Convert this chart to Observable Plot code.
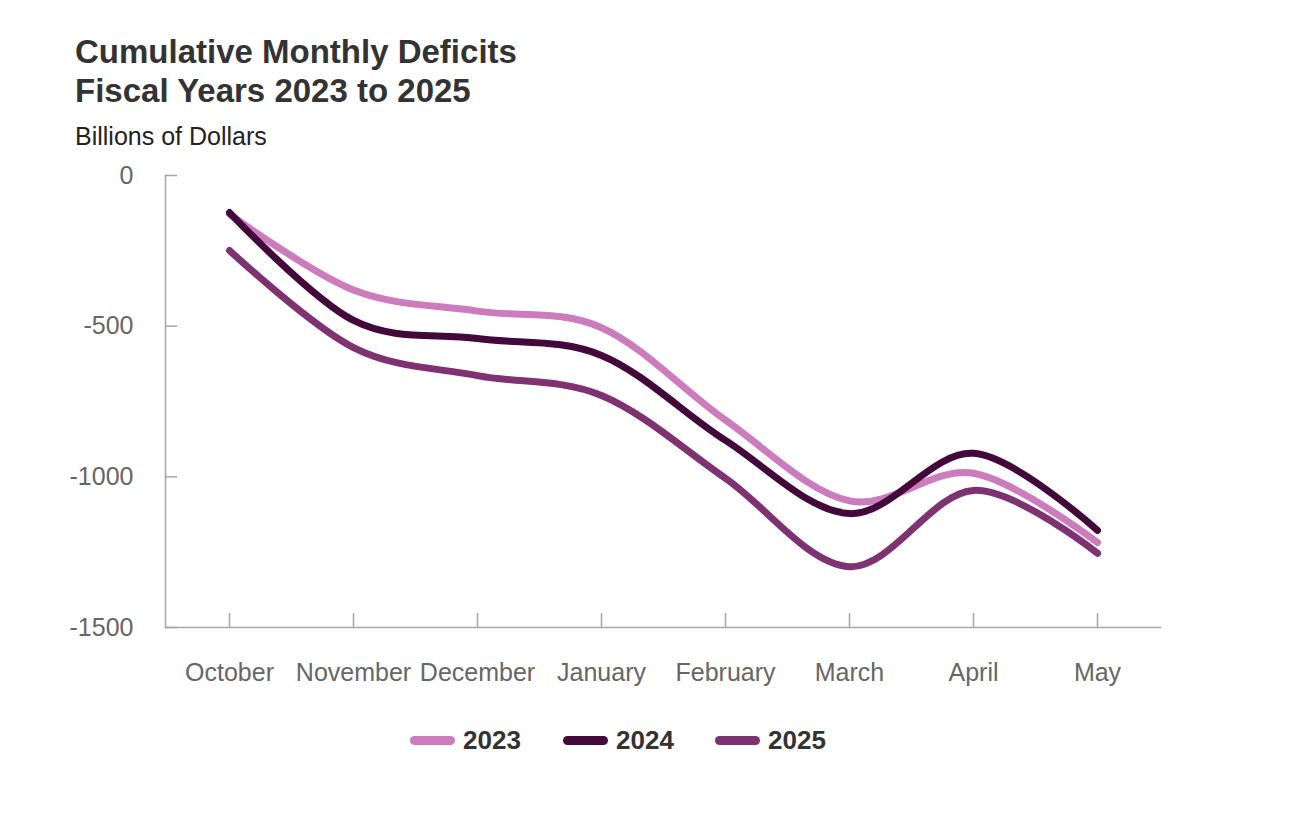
<!DOCTYPE html>
<html>
<head>
<meta charset="utf-8">
<script src="https://cdn.jsdelivr.net/npm/d3@7"></script>
<script src="https://cdn.jsdelivr.net/npm/@observablehq/plot@0.6"></script>
<style>
  html, body { margin: 0; padding: 0; background: #fff; }
  #wrap { position: relative; width: 1316px; height: 818px; font-family: "Liberation Sans", Arial, sans-serif; }
  #title { position: absolute; left: 75px; top: 32px; font-size: 33px; line-height: 39px; font-weight: bold; color: #333; }
  #subtitle { position: absolute; left: 75px; top: 121px; font-size: 25px; line-height: 30px; color: #222; }
  #chart { position: absolute; left: 0; top: 0; }
  #legend { position: absolute; top: 725px; left: 0; height: 30px; }
  .item { position: absolute; top: 0; height: 30px; display: flex; align-items: center; }
  .sw { width: 45px; height: 9px; border-radius: 5px; margin-right: 8px; }
  .lab { font-size: 26px; font-weight: bold; color: #333; }
</style>
</head>
<body>
<div id="wrap">
  <div id="chart"></div>
  <div id="title">Cumulative Monthly Deficits<br>Fiscal Years 2023 to 2025</div>
  <div id="subtitle">Billions of Dollars</div>
  <div id="legend"></div>
</div>
<script>
const months = ["October", "November", "December", "January", "February", "March", "April", "May"];
const series = ["2023", "2024", "2025"];
const colors = ["#cc7bbd", "#42093a", "#7e3272"];
const v2023 = [-128, -380, -450, -505, -812, -1080, -988, -1218];
const v2024 = [-123, -481, -541, -597, -879, -1122, -922, -1178];
const v2025 = [-249, -571, -664, -730, -1005, -1298, -1045, -1254];
const yTicks = [0, -500, -1000, -1500];

const values = {"2023": v2023, "2024": v2024, "2025": v2025};
const drawOrder = ["2025", "2023", "2024"];
const rows = drawOrder.flatMap(s => months.map((m, i) => ({month: m, value: values[s][i], year: s})));

const axisColor = "#a6a6a6";
const chart = Plot.plot({
  width: 1316,
  height: 720,
  marginTop: 175,
  marginBottom: 93,
  marginLeft: 165,
  marginRight: 156,
  style: {fontFamily: "Liberation Sans, Arial, sans-serif", fontSize: "25px", background: "transparent"},
  x: {type: "point", domain: months, padding: 0.49, axis: null},
  y: {domain: [-1500, 0], axis: null},
  color: {domain: series, range: colors},
  marks: [
    Plot.frame({anchor: "left", stroke: axisColor, strokeWidth: 1.5}),
    Plot.frame({anchor: "bottom", stroke: axisColor, strokeWidth: 1.5}),
    Plot.axisY({ticks: yTicks, tickSize: 12, dx: 12, fill: "none", stroke: axisColor, strokeWidth: 1.5, label: null}),
    Plot.axisY({ticks: yTicks, tickSize: 0, tickPadding: 32, tickFormat: d => String(d), fill: "#666", label: null}),
    Plot.axisX({tickSize: 14, dy: -14, fill: "none", stroke: axisColor, strokeWidth: 1.5, label: null}),
    Plot.axisX({tickSize: 0, tickPadding: 36, fill: "#666", label: null}),
    Plot.line(rows, {x: "month", y: "value", z: "year", stroke: "year", strokeWidth: 7, strokeLinecap: "round", strokeLinejoin: "round", curve: "cardinal", tension: 0})
  ]
});
document.getElementById("chart").appendChild(chart);

const legendPos = [410, 563, 715];
const legend = document.getElementById("legend");
series.forEach((s, i) => {
  const it = document.createElement("div");
  it.className = "item";
  it.style.left = legendPos[i] + "px";
  it.innerHTML = `<div class="sw" style="background:${colors[i]}"></div><div class="lab">${s}</div>`;
  legend.appendChild(it);
});
</script>
</body>
</html>
